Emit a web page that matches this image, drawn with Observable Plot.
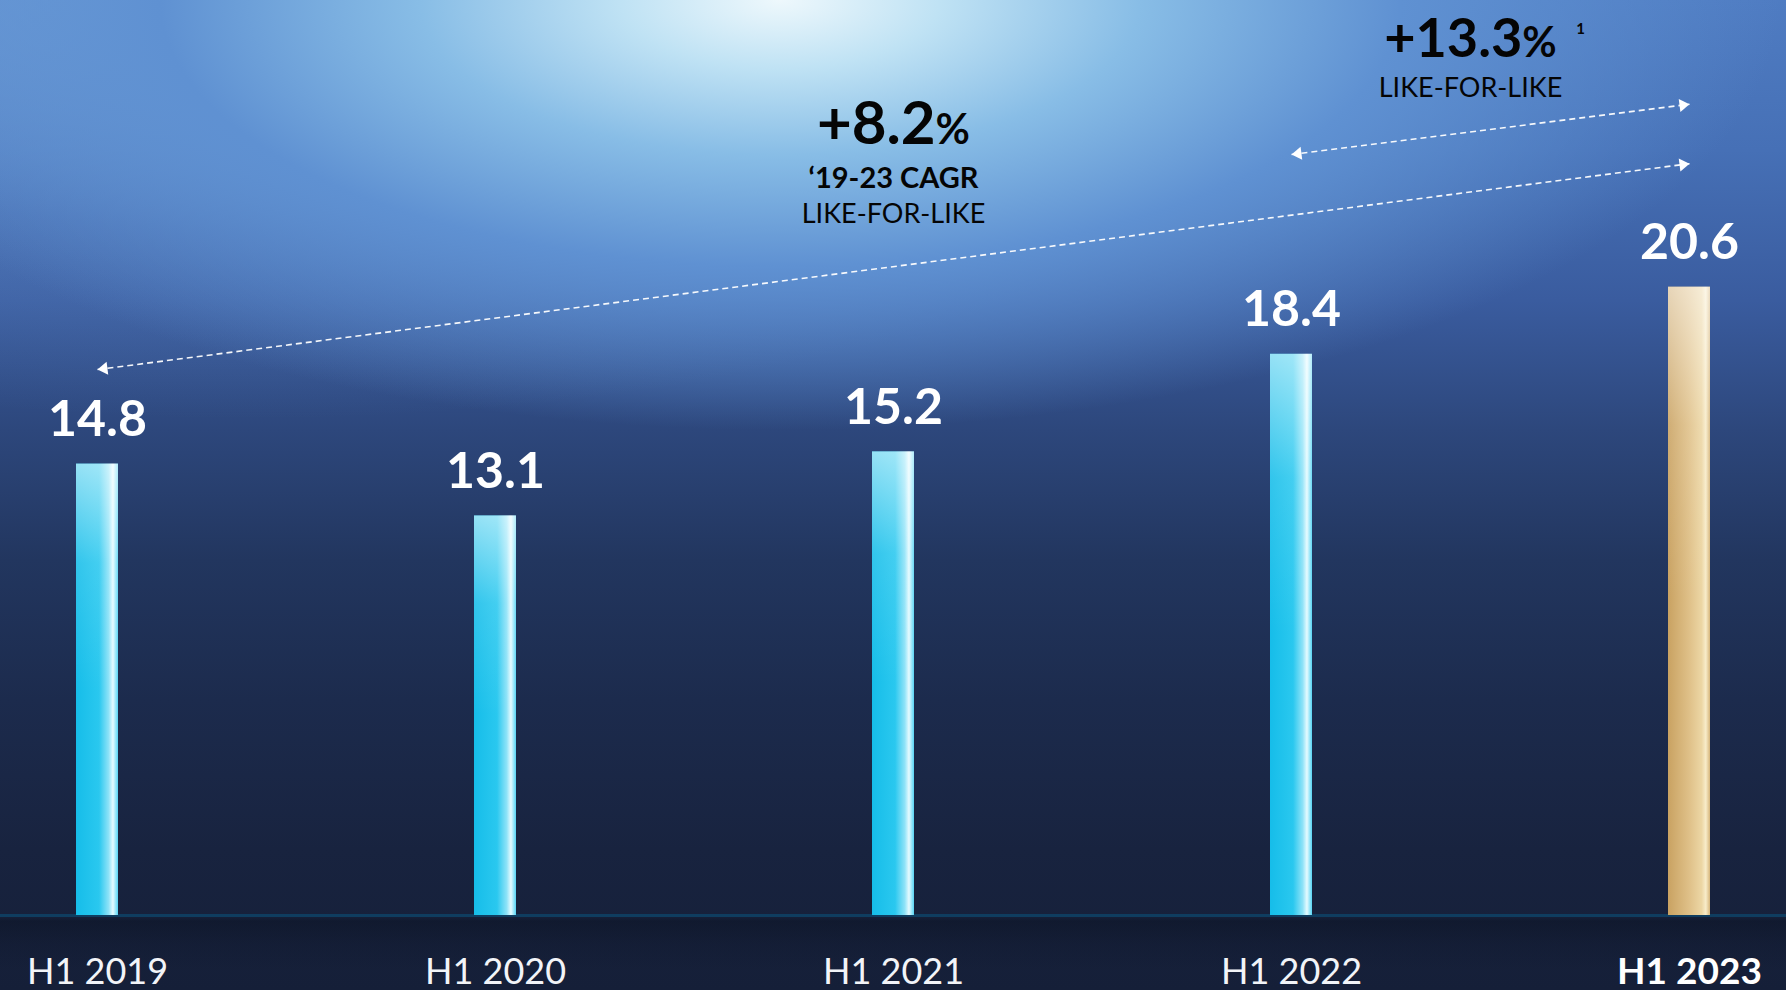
<!DOCTYPE html>
<html><head><meta charset="utf-8">
<script src="https://cdn.jsdelivr.net/npm/d3@7"></script>
<script src="https://cdn.jsdelivr.net/npm/@observablehq/plot@0.6"></script>
<style>
html,body{margin:0;padding:0;background:#151e37;}
#chart{width:1786px;height:990px;position:relative;overflow:hidden;
background:
 linear-gradient(180deg, rgba(0,0,0,0) 0px, rgba(0,0,0,0) 916px, rgba(8,14,28,0.4) 921px, rgba(8,14,28,0.15) 945px, rgba(0,0,0,0) 970px),
 radial-gradient(ellipse 1000px 430px at 780px 0px, #eef8fc 0%, #bfe2f4 16%, #88bde6 36%, #5f91d2 62%, rgba(74,116,190,0) 100%),
 radial-gradient(ellipse 1100px 420px at 250px 0px, rgba(150,200,240,0.55) 0%, rgba(130,180,235,0.2) 55%, rgba(120,170,230,0) 100%),
 linear-gradient(180deg, #4f7cc2 0px, #4670b6 150px, #3a5c9f 300px, #2d477c 430px, #22365f 560px, #1c2b4d 700px, #18233f 850px, #151f38 990px);
}
</style></head><body><div id="chart"></div>
<script>
// ---- data ----
const periods = ["H1 2019", "H1 2020", "H1 2021", "H1 2022", "H1 2023"];
const values = [14.8, 13.1, 15.2, 18.4, 20.6];
const valueLabels = ["14.8", "13.1", "15.2", "18.4", "20.6"];
const highlightPeriod = "H1 2023";

// annotation: CAGR block (anchored over H1 2021)
const cagrAnchor = "H1 2021";
const cagrLines = ["+8.2%", "\u201819-23 CAGR", "LIKE-FOR-LIKE"];
const cagrLevels = [25.3, 23.84, 22.69];
// annotation: like-for-like block (anchored to H1 2022)
const lflAnchor = "H1 2022";
const lflLines = ["+13.3%", "LIKE-FOR-LIKE"];
const lflLevels = [28.15, 26.85];
const lflNote = "1";
const lflNoteLevel = 28.9;
// dashed arrows
const arrowFrom = ["H1 2019", "H1 2022"];
const arrowTo = ["H1 2023", "H1 2023"];
const arrowFromLevel = [17.9, 24.95];
const arrowToLevel = [24.65, 26.6];

const bars = periods.map((p, i) => ({period: p, value: values[i], label: valueLabels[i]}));
const arrows = arrowFrom.map((f, i) => ({x1: f, x2: arrowTo[i], y1: arrowFromLevel[i], y2: arrowToLevel[i]}));
const cagr = cagrLines.map((t, i) => ({x: cagrAnchor, y: cagrLevels[i], text: t}));
const lfl = lflLines.map((t, i) => ({x: lflAnchor, y: lflLevels[i], text: t}));

const svg = Plot.plot({
  width: 1786,
  height: 990,
  marginTop: 0,
  marginBottom: 75,
  marginLeft: 0,
  marginRight: 0,
  style: {background: "transparent", fontFamily: "Lato, 'Open Sans', sans-serif", overflow: "visible"},
  x: {type: "band", domain: periods, paddingInner: 0.895, paddingOuter: 0.186, axis: null},
  y: {domain: [0, 30], axis: null},
  color: {type: "identity"},
  marks: [
    Plot.ruleY([0], {stroke: "#0f3d60", strokeWidth: 3}),
    Plot.barY(bars, {x: "period", y: "value",
      fill: d => d.period === highlightPeriod ? "url(#gold)" : "url(#cyan)"}),
    Plot.barY(bars, {x: "period", y: "value", fill: "url(#sheen)"}),
    Plot.text(bars, {x: "period", y: "value", text: "label", dy: -28, lineAnchor: "bottom",
      fill: "white", fontSize: 50, fontWeight: "bold"}),
    Plot.text(bars.filter(d => d.period !== highlightPeriod), {x: "period", y: 0, text: "period", dy: 68,
      lineAnchor: "bottom", fill: "#f2f4f8", fontSize: 36}),
    Plot.text(bars.filter(d => d.period === highlightPeriod), {x: "period", y: 0, text: "period", dy: 68,
      lineAnchor: "bottom", fill: "#ffffff", fontSize: 37, fontWeight: "bold"}),
    Plot.link(arrows, {x1: "x1", y1: "y1", x2: "x2", y2: "y2", stroke: "white", strokeWidth: 1.6,
      strokeDasharray: "6,4", strokeOpacity: 0.95}),
    Plot.text(cagr.slice(0, 1), {x: "x", y: "y", text: "text", lineAnchor: "bottom", fill: "#050505", fontSize: 60, fontWeight: "bold"}),
    Plot.text(cagr.slice(1, 2), {x: "x", y: "y", text: "text", lineAnchor: "bottom", fill: "#050505", fontSize: 29, fontWeight: "bold"}),
    Plot.text(cagr.slice(2, 3), {x: "x", y: "y", text: "text", lineAnchor: "bottom", fill: "#050505", fontSize: 27}),
    Plot.text(lfl.slice(0, 1), {x: "x", y: "y", text: "text", dx: 179, lineAnchor: "bottom", fill: "#050505", fontSize: 54, fontWeight: "bold"}),
    Plot.text(lfl.slice(1, 2), {x: "x", y: "y", text: "text", dx: 179, lineAnchor: "bottom", fill: "#050505", fontSize: 27}),
    Plot.text([{x: lflAnchor, y: lflNoteLevel, text: lflNote}], {x: "x", y: "y", text: "text", dx: 289, lineAnchor: "bottom", fill: "#050505", fontSize: 15, fontWeight: "bold"})
  ]
});

svg.insertAdjacentHTML("afterbegin", `
<defs>
  <linearGradient id="cyan" x1="0" y1="0" x2="1" y2="0">
    <stop offset="0" stop-color="#16bde9"/>
    <stop offset="0.55" stop-color="#2ac8ef"/>
    <stop offset="0.78" stop-color="#8fe3f8"/>
    <stop offset="0.88" stop-color="#e6fbff"/>
    <stop offset="1" stop-color="#56d4f4"/>
  </linearGradient>
  <linearGradient id="gold" x1="0" y1="0" x2="1" y2="0">
    <stop offset="0" stop-color="#c9a262"/>
    <stop offset="0.5" stop-color="#dfc088"/>
    <stop offset="0.8" stop-color="#ecd6a4"/>
    <stop offset="0.9" stop-color="#f8ecca"/>
    <stop offset="1" stop-color="#d6b57a"/>
  </linearGradient>
  <linearGradient id="sheen" x1="0" y1="0" x2="0" y2="1">
    <stop offset="0" stop-color="#ffffff" stop-opacity="0.55"/>
    <stop offset="0.22" stop-color="#ffffff" stop-opacity="0.12"/>
    <stop offset="0.5" stop-color="#ffffff" stop-opacity="0"/>
  </linearGradient>
  <marker id="tri" viewBox="-12 -7 24 14" markerWidth="24" markerHeight="14" markerUnits="userSpaceOnUse" refX="0" refY="0" orient="auto-start-reverse">
    <path d="M-10,-6.5 L0,0 L-10,6.5 Z" fill="white"/>
  </marker>
</defs>`);

// double-headed dashed arrows
svg.querySelectorAll('g[aria-label="link"] path').forEach(p => {
  p.setAttribute("marker-start", "url(#tri)");
  p.setAttribute("marker-end", "url(#tri)");
});
// smaller percent sign
svg.querySelectorAll("text").forEach(t => {
  if (t.children.length === 0 && /%$/.test(t.textContent)) {
    const s = t.textContent.slice(0, -1);
    t.textContent = "";
    t.appendChild(document.createTextNode(s));
    const ts = document.createElementNS("http://www.w3.org/2000/svg", "tspan");
    ts.setAttribute("font-size", "42");
    ts.textContent = "%";
    t.appendChild(ts);
  }
});

document.getElementById("chart").appendChild(svg);
</script>
</body></html>
